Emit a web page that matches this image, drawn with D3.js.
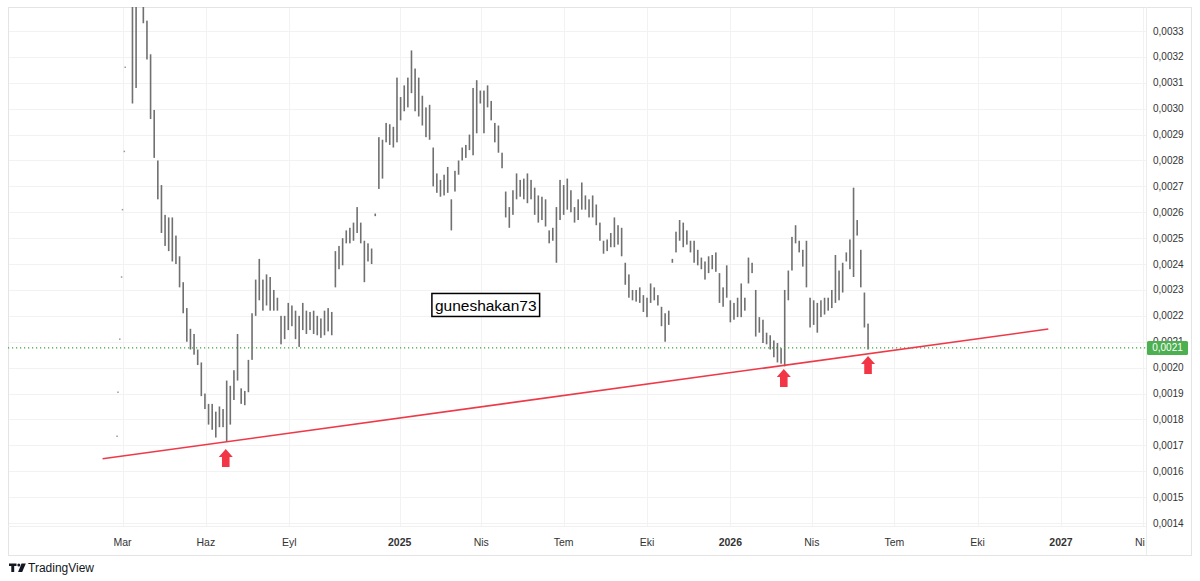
<!DOCTYPE html>
<meta charset="utf-8">
<style>
body { margin: 0; background: #fff; }
svg { display: block; font-family: "Liberation Sans", Arial, sans-serif; }
.grid line { stroke: #f2f2f2; shape-rendering: crispEdges; }
.ylab { font-size: 10px; fill: #333; }
.xlab { font-size: 10.5px; fill: #333; }
</style>
<svg width="1200" height="581"></svg>
<script src="https://d3js.org/d3.v7.min.js"></script>
<script>

// 4-day bars (null = no trade)
var barStart = "2024-03-12", barStepDays = 4;
var barHigh = [
  0.003500, 0.003450, null, 0.003420, 0.003340, 0.003210, 0.002995, 0.002800, 0.002705, 0.002590,
  0.002580, 0.002580, 0.002510, 0.002430, 0.002330, 0.002230, 0.002150, 0.002130, 0.002070, 0.002020,
  0.001900, 0.001860, 0.001860, 0.001830, 0.001850, 0.001840, 0.001950, 0.001930, 0.001990, 0.002130,
  0.001920, 0.001910, 0.002030, 0.002210, 0.002340, 0.002420, 0.002340, 0.002360, 0.002350, 0.002300,
  0.002270, 0.002200, 0.002200, 0.002250, 0.002240, 0.002220, 0.002200, 0.002250, 0.002220, 0.002215,
  0.002220, 0.002200, 0.002190, 0.002220, 0.002230, 0.002215, 0.002450, 0.002470, 0.002500, 0.002530,
  0.002540, 0.002560, 0.002620, 0.002560, 0.002490, 0.002480, 0.002460, 0.002595, 0.002890, 0.002880,
  0.002945, 0.002940, 0.002930, 0.003120, 0.003045, 0.003090, 0.003120, 0.003225, 0.003155, 0.003120,
  0.003050, 0.003005, 0.003015, 0.002850, 0.002750, 0.002725, 0.002745, 0.002775, 0.002650, 0.002760,
  0.002800, 0.002850, 0.002860, 0.002900, 0.003080, 0.003110, 0.003070, 0.003070, 0.003090, 0.003030,
  0.002945, 0.002935, 0.002830, 0.002680, 0.002620, 0.002685, 0.002750, 0.002725, 0.002730, 0.002750,
  0.002725, 0.002695, 0.002665, 0.002660, 0.002650, 0.002530, 0.002540, 0.002620, 0.002725, 0.002705,
  0.002730, 0.002685, 0.002620, 0.002650, 0.002715, 0.002665, 0.002650, 0.002665, 0.002630, 0.002560,
  0.002490, 0.002495, 0.002520, 0.002580, 0.002550, 0.002540, 0.002405, 0.002360, 0.002300, 0.002300,
  0.002310, 0.002280, 0.002270, 0.002325, 0.002310, 0.002280, 0.002235, 0.002210, 0.002220, 0.002420,
  0.002525, 0.002570, 0.002560, 0.002530, 0.002490, 0.002490, 0.002455, 0.002425, 0.002410, 0.002430,
  0.002435, 0.002445, 0.002365, 0.002310, 0.002395, 0.002260, 0.002250, 0.002270, 0.002325, 0.002270,
  0.002425, 0.002405, 0.002300, 0.002195, 0.002185, 0.002135, 0.002125, 0.002105, 0.002095, 0.002075,
  0.002300, 0.002375, 0.002505, 0.002550, 0.002490, 0.002455, 0.002490, 0.002270, 0.002260, 0.002250,
  0.002260, 0.002270, 0.002270, 0.002300, 0.002435, 0.002375, 0.002405, 0.002445, 0.002495, 0.002695,
  0.002570, 0.002455, 0.002290, 0.002170
];
var barLow = [
  0.003020, 0.003080, null, 0.003330, 0.003190, 0.002960, 0.002810, 0.002650, 0.002520, 0.002470,
  0.002450, 0.002410, 0.002400, 0.002310, 0.002210, 0.002100, 0.002070, 0.002050, 0.002010, 0.001890,
  0.001840, 0.001780, 0.001760, 0.001730, 0.001770, 0.001770, 0.001713, 0.001780, 0.001875, 0.001950,
  0.001860, 0.001855, 0.001905, 0.002030, 0.002200, 0.002260, 0.002220, 0.002240, 0.002220, 0.002220,
  0.002220, 0.002090, 0.002110, 0.002145, 0.002160, 0.002110, 0.002080, 0.002145, 0.002130, 0.002145,
  0.002130, 0.002125, 0.002115, 0.002125, 0.002140, 0.002125, 0.002310, 0.002380, 0.002395, 0.002480,
  0.002480, 0.002490, 0.002520, 0.002480, 0.002330, 0.002410, 0.002400, 0.002585, 0.002690, 0.002730,
  0.002870, 0.002860, 0.002850, 0.002870, 0.002955, 0.002990, 0.003005, 0.003060, 0.002990, 0.002970,
  0.002935, 0.002890, 0.002880, 0.002700, 0.002675, 0.002660, 0.002665, 0.002675, 0.002530, 0.002680,
  0.002745, 0.002800, 0.002810, 0.002840, 0.002820, 0.002905, 0.003020, 0.002905, 0.003005, 0.002955,
  0.002870, 0.002830, 0.002770, 0.002580, 0.002540, 0.002590, 0.002650, 0.002660, 0.002650, 0.002635,
  0.002650, 0.002590, 0.002560, 0.002570, 0.002545, 0.002480, 0.002490, 0.002405, 0.002570, 0.002590,
  0.002610, 0.002600, 0.002560, 0.002570, 0.002610, 0.002610, 0.002580, 0.002580, 0.002550, 0.002490,
  0.002440, 0.002450, 0.002465, 0.002465, 0.002475, 0.002430, 0.002320, 0.002270, 0.002260, 0.002255,
  0.002250, 0.002215, 0.002195, 0.002250, 0.002260, 0.002240, 0.002160, 0.002100, 0.002165, 0.002405,
  0.002445, 0.002490, 0.002465, 0.002475, 0.002445, 0.002405, 0.002395, 0.002380, 0.002340, 0.002365,
  0.002380, 0.002370, 0.002250, 0.002235, 0.002270, 0.002175, 0.002185, 0.002195, 0.002195, 0.002220,
  0.002325, 0.002365, 0.002120, 0.002135, 0.002095, 0.002090, 0.002070, 0.002040, 0.002020, 0.002015,
  0.002005, 0.002260, 0.002375, 0.002480, 0.002445, 0.002390, 0.002310, 0.002155, 0.002165, 0.002135,
  0.002195, 0.002205, 0.002220, 0.002230, 0.002250, 0.002260, 0.002290, 0.002410, 0.002380, 0.002350,
  0.002510, 0.002310, 0.002155, 0.002070
];

// isolated early ticks at the far left
var tickDates = ["2024-02-24", "2024-02-25", "2024-02-27", "2024-02-29", "2024-03-01", "2024-03-03", "2024-03-04"];
var tickPrices = [0.001735, 0.001905, 0.002110, 0.002350, 0.002610, 0.002835, 0.003160];

var lastPrice = 0.002076;

var trendDates = ["2024-02-08", "2026-12-18"];
var trendPrices = [0.001648, 0.002149];

var arrowDates = ["2024-06-23", "2026-03-01", "2026-06-02"];
var arrowPrices = [0.001686, 0.001995, 0.002045];

var noteText = "guneshakan73", noteDate = "2025-04-06", notePrice = 0.002242;

var yTicks = [0.0014, 0.0015, 0.0016, 0.0017, 0.0018, 0.0019, 0.0020, 0.0021, 0.0022, 0.0023,
              0.0024, 0.0025, 0.0026, 0.0027, 0.0028, 0.0029, 0.0030, 0.0031, 0.0032, 0.0033];
var xTickDates = ["2024-03-01", "2024-06-01", "2024-09-01", "2025-01-01", "2025-04-01", "2025-07-01",
                  "2025-10-01", "2026-01-01", "2026-04-01", "2026-07-01", "2026-10-01", "2027-01-01", "2027-04-01"];
var xTickLabels = ["Mar", "Haz", "Eyl", "2025", "Nis", "Tem", "Eki", "2026", "Nis", "Tem", "Eki", "2027", "Nis"];

var frameLeft = 8, frameTop = 7, plotRight = 1146, plotBottom = 526, frameRight = 1191, frameBottom = 555;

var parse = d3.utcParse("%Y-%m-%d");
var x = d3.scaleUtc().domain([parse("2024-03-01"), parse("2027-01-01")]).range([122.5, 1061]);
var y = d3.scaleLinear().domain([0.0014, 0.0033]).range([523, 31]);
var fmt = function(v) { return d3.format(".4f")(v).replace(".", ","); };

var bars = barHigh.map(function(h, i) {
  return { date: d3.utcDay.offset(parse(barStart), i * barStepDays), high: h, low: barLow[i] };
}).filter(function(d) { return d.high != null; });

var svg = d3.select("svg");
var defs = svg.append("defs");
defs.append("clipPath").attr("id", "plot")
  .append("rect").attr("x", frameLeft).attr("y", frameTop)
  .attr("width", plotRight - frameLeft).attr("height", plotBottom - frameTop);
defs.append("clipPath").attr("id", "xaxis")
  .append("rect").attr("x", frameLeft).attr("y", plotBottom)
  .attr("width", plotRight - 1 - frameLeft).attr("height", frameBottom - plotBottom);

// grid
var grid = svg.append("g").attr("class", "grid").attr("clip-path", "url(#plot)");
grid.selectAll(".h").data(yTicks).enter().append("line")
  .attr("x1", frameLeft).attr("x2", plotRight)
  .attr("y1", function(d) { return Math.round(y(d)) + 0.5; })
  .attr("y2", function(d) { return Math.round(y(d)) + 0.5; });
grid.selectAll(".v").data(xTickDates).enter().append("line")
  .attr("y1", frameTop).attr("y2", plotBottom)
  .attr("x1", function(d) { return Math.round(x(parse(d))) + 0.5; })
  .attr("x2", function(d) { return Math.round(x(parse(d))) + 0.5; });

// frame
svg.append("rect").attr("x", frameLeft + 0.5).attr("y", frameTop + 0.5)
  .attr("width", frameRight - frameLeft).attr("height", frameBottom - frameTop)
  .attr("fill", "none").attr("stroke", "#e4e4e4");
svg.append("line").attr("x1", plotRight + 0.5).attr("x2", plotRight + 0.5)
  .attr("y1", frameTop).attr("y2", frameBottom)
  .attr("stroke", "#ececec");
svg.append("line").attr("x1", frameLeft).attr("x2", plotRight)
  .attr("y1", plotBottom + 0.5).attr("y2", plotBottom + 0.5)
  .attr("stroke", "#f0f0f0");

var plot = svg.append("g").attr("clip-path", "url(#plot)");

// bars
plot.selectAll(".bar").data(bars).enter().append("rect")
  .attr("x", function(d) { return x(d.date) - 0.8; })
  .attr("width", 1.6)
  .attr("y", function(d) { return y(d.high); })
  .attr("height", function(d) { return Math.max(1.5, y(d.low) - y(d.high)); })
  .attr("fill", "#707070");

plot.selectAll(".tick0").data(tickDates).enter().append("rect")
  .attr("x", function(d) { return x(parse(d)) - 0.75; })
  .attr("y", function(d, i) { return y(tickPrices[i]) - 0.75; })
  .attr("width", 1.5).attr("height", 1.5)
  .attr("fill", "#9a9a9a");

// last price line
plot.append("line")
  .attr("x1", frameLeft).attr("x2", plotRight)
  .attr("y1", y(lastPrice)).attr("y2", y(lastPrice))
  .attr("stroke", "#43a047").attr("stroke-width", 1.2).attr("stroke-dasharray", "1.2,2.8");

// trend line
plot.append("line")
  .attr("x1", x(parse(trendDates[0]))).attr("y1", y(trendPrices[0]))
  .attr("x2", x(parse(trendDates[1]))).attr("y2", y(trendPrices[1]))
  .attr("stroke", "#ee3a48").attr("stroke-width", 1.6);

// arrows
plot.selectAll(".arrow").data(arrowDates).enter().append("path")
  .attr("transform", function(d, i) { return "translate(" + x(parse(d)) + "," + y(arrowPrices[i]) + ")"; })
  .attr("d", "M0,0L7,8L3.8,8L3.8,18L-3.8,18L-3.8,8L-7,8Z")
  .attr("fill", "#f23645");

// note box
var note = plot.append("g")
  .attr("transform", "translate(" + x(parse(noteDate)) + "," + y(notePrice) + ")");
var noteRect = note.append("rect").attr("fill", "#fff").attr("stroke", "#000").attr("stroke-width", 1.5);
var noteT = note.append("text").attr("text-anchor", "middle").attr("dy", "0.36em")
  .attr("font-size", 15.5).attr("fill", "#000").text(noteText);
var bb = noteT.node().getBBox();
noteRect.attr("x", -bb.width / 2 - 3).attr("y", -11.5).attr("width", bb.width + 6).attr("height", 23);

// y axis labels
svg.selectAll(".ylab").data(yTicks).enter().append("text")
  .attr("class", "ylab")
  .attr("x", 1153).attr("y", function(d) { return y(d); }).attr("dy", "0.35em")
  .text(fmt);

// last price tag
svg.append("rect").attr("x", 1147).attr("y", y(lastPrice) - 7).attr("width", 41).attr("height", 14)
  .attr("rx", 1.5).attr("fill", "#4caf50");
svg.append("text").attr("x", 1167.5).attr("y", y(lastPrice)).attr("dy", "0.35em")
  .attr("text-anchor", "middle").attr("font-size", 10).attr("fill", "#fff").text(fmt(lastPrice));

// x axis labels
svg.append("g").attr("clip-path", "url(#xaxis)")
  .selectAll("text").data(xTickDates).enter().append("text")
  .attr("class", "xlab")
  .attr("x", function(d) { return x(parse(d)); }).attr("y", 542).attr("dy", "0.35em")
  .attr("text-anchor", "middle")
  .attr("font-weight", function(d, i) { return /^\d{4}$/.test(xTickLabels[i]) ? "bold" : "normal"; })
  .text(function(d, i) { return xTickLabels[i]; });

// TradingView mark
var logo = svg.append("g").attr("fill", "#131722");
logo.append("path").attr("d", "M9,563.5h7.5v2.6h-2.3v6h-2.9v-6H9z");
logo.append("circle").attr("cx", 18.8).attr("cy", 565).attr("r", 1.5);
logo.append("path").attr("d", "M21.5,563.5h4.3l-3.6,8.6h-4.1z");
svg.append("text").attr("x", 28).attr("y", 572).attr("font-size", 12).attr("fill", "#131722").text("TradingView");

</script>
